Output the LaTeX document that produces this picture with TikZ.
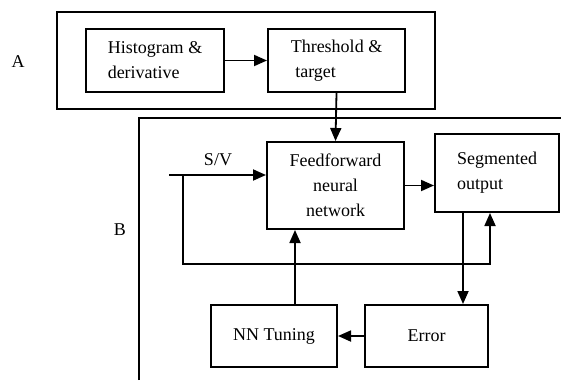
\documentclass[tikz,border=0pt]{standalone}
\usepackage{fontspec}
\setmainfont{Liberation Serif}
\usetikzlibrary{arrows.meta, positioning, calc}

\begin{document}
\begin{tikzpicture}[
        x=0.5pt, y=-0.5pt,
        box/.style={draw, line width=1pt, align=left, inner sep=0pt, font=\fontsize{9}{12.5}\selectfont},
        arr/.style={-{Triangle[length=6.5pt, width=5.5pt]}, line width=0.9pt},
        lbl/.style={font=\fontsize{9}{11}\selectfont}
    ]
        \useasboundingbox (0,0) rectangle (561,380);
        % part A
        \node[box, minimum width=69pt, minimum height=31.5pt] (hist) at (155,60.5) {Histogram \&\\derivative};
        \node[box, minimum width=68.5pt, minimum height=31.5pt] (thr) at (336.5,60.5) {Threshold \&\\\ target};
        \draw[line width=1pt] ($(hist.north west)+(-28,-16)$) rectangle ($(thr.south east)+(29,16)$);
        \node[lbl] (labA) at (18,62) {A};
        % part B
        \node[box, align=center, minimum width=68.5pt, minimum height=43.5pt] (ff) at (335.5,185.5) {Feedforward\\neural\\network};
        \node[box, minimum width=62pt, minimum height=39pt] (seg) at (497,173) {Segmented\\output};
        \node[box, minimum width=61.5pt, minimum height=31pt] (err) at (426.5,336) {Error};
        \node[box, minimum width=63pt, minimum height=31pt] (nn) at (274,336) {NN Tuning};
        \draw[line width=1pt] (139,380) -- (139,118) -- (561,118);
        \node[lbl] (labB) at (120,230) {B};
        \node[lbl] (sv) at (218,160) {S/V};

        \coordinate (in) at (169,175);
        \coordinate (br) at (183,175);
        \coordinate (loop) at (183,264);

        \draw[arr] (hist.east) -- (thr.west);
        \draw[arr] (thr.south) -- (ff.north);
        \draw[arr] (in) -- (in -| ff.west);
        \draw[arr] (br) -- (loop) -| ([xshift=-3.5pt]seg.south);
        \draw[arr] (ff.east) -- (ff.east -| seg.west);
        \draw[arr] ([xshift=-17pt]seg.south) -- ([xshift=-17pt]seg.south |- err.north);
        \draw[arr] (err.west) -- (nn.east);
        \draw[arr] ([xshift=10.5pt]nn.north) -- ([xshift=10.5pt]nn.north |- ff.south);
    \end{tikzpicture}
\end{document}
